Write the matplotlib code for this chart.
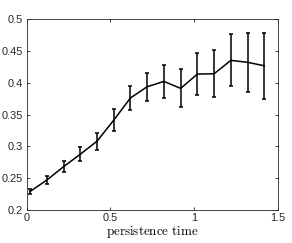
import matplotlib
matplotlib.use("Agg")
import matplotlib.pyplot as plt

persistence_time = [0.02, 0.12, 0.22, 0.32, 0.42, 0.52, 0.62, 0.72, 0.82, 0.92, 1.02, 1.12, 1.22, 1.32, 1.42]
mean_value = [0.229, 0.247, 0.268, 0.2875, 0.308, 0.341, 0.376, 0.3936, 0.402, 0.391, 0.4135, 0.414, 0.435, 0.432, 0.4265]
error_value = [0.004, 0.0065, 0.009, 0.011, 0.0135, 0.017, 0.019, 0.022, 0.026, 0.030, 0.0335, 0.037, 0.041, 0.046, 0.052]

xticks = [0, 0.5, 1, 1.5]
xtick_labels = ["0", "0.5", "1", "1.5"]
yticks = [0.2, 0.25, 0.3, 0.35, 0.4, 0.45, 0.5]
ytick_labels = ["0.2", "0.25", "0.3", "0.35", "0.4", "0.45", "0.5"]

plt.rcParams["mathtext.fontset"] = "cm"

fig = plt.figure(figsize=(2.92, 2.43), dpi=100)
ax = fig.add_axes([0.0914, 0.1358, 0.8596, 0.786])

ax.errorbar(persistence_time, mean_value, yerr=error_value, color="black",
            linewidth=1.1, elinewidth=1.1, capsize=1.6, capthick=1.1)

ax.set_xlim(0, 1.5)
ax.set_ylim(0.2, 0.5)
ax.set_xticks(xticks)
ax.set_xticklabels(xtick_labels)
ax.set_yticks(yticks)
ax.set_yticklabels(ytick_labels)

gray = "#262626"
for s in ax.spines.values():
    s.set_color(gray)
    s.set_linewidth(0.6)
ax.tick_params(direction="in", top=True, right=True, length=2.5, width=0.6,
               colors=gray, labelsize=7.9, pad=2.5)
for lab in ax.get_xticklabels() + ax.get_yticklabels():
    lab.set_family("Liberation Sans")

ax.set_xlabel(r"$\mathrm{persistence\ time}$", fontsize=9.4, labelpad=0.5, color="black")

fig.savefig("out.png", dpi=100)
